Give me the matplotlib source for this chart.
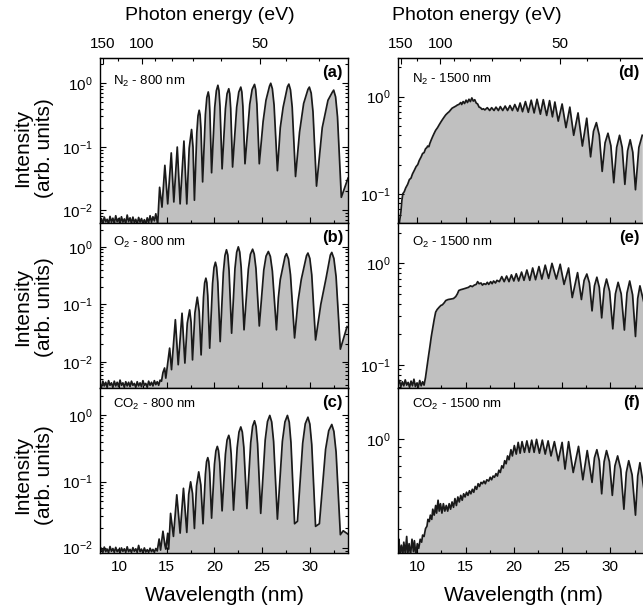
import numpy as np
import matplotlib

matplotlib.use("Agg")
import matplotlib.pyplot as plt
from matplotlib.ticker import LogLocator, NullFormatter, MultipleLocator, FixedLocator

plt.rcParams["font.family"] = ["Liberation Sans", "DejaVu Sans"]
plt.rcParams["mathtext.fontset"] = "custom"
plt.rcParams["mathtext.rm"] = "Liberation Sans"
plt.rcParams["mathtext.it"] = "Liberation Sans:italic"
plt.rcParams["mathtext.bf"] = "Liberation Sans:bold"

HC = 1239.84  # eV nm

# ---- spectra: (wavelength nm, intensity arb. units) ----
spec_n2_800 = [
    (8.0, .0060), (8.15, .0074), (8.3, .0062), (8.45, .0078), (8.6, .0066), (8.75, .0072),
    (8.9, .0061), (9.05, .0080), (9.2, .0065), (9.35, .0075), (9.5, .0062), (9.65, .0082),
    (9.8, .0066), (9.95, .0074), (10.1, .0061), (10.25, .0079), (10.4, .0065), (10.55, .0073),
    (10.7, .0062), (10.85, .0084), (11.0, .0066), (11.15, .0076), (11.3, .0062), (11.45, .0078),
    (11.6, .0064), (11.75, .0072), (11.9, .0061), (12.05, .0077), (12.2, .0065), (12.35, .0074),
    (12.5, .0062), (12.65, .0071), (12.8, .0061), (12.95, .0076), (13.1, .0064), (13.25, .0082),
    (13.4, .0065), (13.55, .0079), (13.7, .0068), (13.85, .0088), (14.05, .0060),
    (14.15, .012), (14.25, .023), (14.5, .0112), (14.8, .051), (15.1, .0126), (15.47, .080),
    (15.74, .0135), (16.1, .099), (16.4, .0126), (16.8, .123), (17.1, .0126), (17.35, .095),
    (17.6, .187), (17.75, .099), (17.9, .0144), (18.15, .166), (18.275, .307), (18.4, .376),
    (18.49, .32), (18.58, .196), (18.76, .028), (19.05, .323), (19.2, .596), (19.35, .73),
    (19.44, .608), (19.52, .351), (19.7, .039), (20.03, .42), (20.2, .763), (20.36, .93),
    (20.47, .77), (20.58, .436), (20.8, .045), (21.15, .397), (21.32, .684), (21.5, .82),
    (21.6, .687), (21.7, .403), (21.9, .048), (22.33, .42), (22.55, .726), (22.76, .87),
    (22.87, .731), (22.98, .434), (23.2, .054), (23.7, .467), (23.95, .80), (24.2, .96),
    (24.32, .80), (24.45, .467), (24.7, .054), (25.1, .25), (25.4, .54), (25.77, .9),
    (25.9, 1.0), (26.07, .82), (26.25, .453), (26.6, .042), (26.9, .2), (27.2, .42),
    (27.65, .88), (27.8, .97), (27.97, .786), (28.15, .42), (28.5, .034), (28.92, .17),
    (29.35, .48), (29.8, .8), (29.95, .87), (30.14, .70), (30.33, .355), (30.7, .024),
    (31.3, .2), (31.9, .54), (32.35, .72), (32.5, .78), (32.7, .61), (32.9, .295),
    (33.3, .016), (34.0, .032),
]

spec_o2_800 = [
    (8.0, .0041), (8.15, .0036), (8.3, .0046), (8.45, .0038), (8.6, .0044), (8.75, .0036),
    (8.9, .0047), (9.05, .0039), (9.2, .0043), (9.35, .0036), (9.5, .0046), (9.65, .0038),
    (9.8, .0044), (9.95, .0037), (10.1, .0048), (10.25, .0039), (10.4, .0043), (10.55, .0036),
    (10.7, .0045), (10.85, .0038), (11.0, .0044), (11.15, .0037), (11.3, .0046), (11.45, .0039),
    (11.6, .0042), (11.75, .0036), (11.9, .0045), (12.05, .0038), (12.2, .0043), (12.35, .0037),
    (12.5, .0047), (12.65, .0039), (12.8, .0042), (12.95, .0036), (13.1, .0046), (13.25, .0039),
    (13.4, .0044), (13.55, .0038), (13.7, .0047), (13.85, .0040), (14.0, .0045), (14.15, .0039),
    (14.3, .0048), (14.45, .0046), (14.6, .0065), (14.77, .0078), (14.9, .0052), (15.3, .0173),
    (15.5, .0073), (15.9, .054), (16.2, .0089), (16.6, .070), (16.9, .0095), (17.15, .047),
    (17.4, .080), (17.55, .0485), (17.7, .0108), (17.95, .071), (18.2, .133), (18.4, .0747),
    (18.6, .0132), (18.85, .132), (18.97, .235), (19.1, .285), (19.2, .239), (19.3, .141),
    (19.5, .0173), (19.8, .228), (19.95, .435), (20.1, .54), (20.22, .443), (20.35, .244),
    (20.6, .0225), (20.93, .355), (21.1, .707), (21.26, .89), (21.4, .722), (21.53, .386),
    (21.8, .0315), (22.15, .421), (22.33, .806), (22.5, 1.0), (22.65, .812), (22.8, .436),
    (23.1, .036), (23.55, .406), (23.77, .743), (24.0, .91), (24.17, .75), (24.35, .422),
    (24.7, .042), (25.17, .394), (25.41, .69), (25.65, .83), (25.86, .68), (26.07, .379),
    (26.5, .036), (26.7, .13), (26.9, .27), (27.4, .68), (27.55, .76), (27.76, .615),
    (27.97, .327), (28.4, .026), (28.75, .11), (29.1, .27), (29.65, .70), (29.8, .78),
    (30.0, .628), (30.2, .327), (30.6, .024), (31.15, .1), (31.7, .285), (32.15, .72),
    (32.3, .80), (32.52, .628), (32.75, .304), (33.2, .0166), (33.9, .041),
]

spec_co2_800 = [
    (8.0, .0088), (8.15, .0098), (8.3, .0085), (8.45, .0102), (8.6, .0087), (8.75, .0095),
    (8.9, .0084), (9.05, .0104), (9.2, .0088), (9.35, .0097), (9.5, .0085), (9.65, .0101),
    (9.8, .0087), (9.95, .0094), (10.1, .0084), (10.25, .0099), (10.4, .0088), (10.55, .0096),
    (10.7, .0085), (10.85, .0103), (11.0, .0087), (11.15, .0094), (11.3, .0085), (11.45, .0100),
    (11.6, .0088), (11.75, .0096), (11.9, .0085), (12.05, .0108), (12.2, .0087), (12.35, .0095),
    (12.5, .0084), (12.65, .0099), (12.8, .0086), (12.95, .0093), (13.1, .0085), (13.25, .0098),
    (13.4, .0087), (13.55, .0094), (13.7, .0085), (13.85, .0097), (14.0, .0089), (14.2, .0135),
    (14.35, .0092), (14.6, .0177), (14.8, .011), (14.9, .0095), (15.1, .0165), (15.2, .0095),
    (15.4, .033), (15.7, .0148), (16.05, .063), (16.4, .0166), (16.75, .079), (17.1, .017),
    (17.3, .064), (17.5, .099), (17.7, .066), (17.9, .0195), (18.12, .0855), (18.35, .14),
    (18.57, .089), (18.8, .023), (19.05, .129), (19.17, .199), (19.3, .23), (19.4, .202),
    (19.5, .136), (19.7, .028), (20.0, .182), (20.15, .291), (20.3, .34), (20.42, .295),
    (20.55, .194), (20.8, .036), (21.15, .259), (21.32, .424), (21.5, .50), (21.62, .425),
    (21.75, .261), (22.0, .037), (22.38, .325), (22.57, .559), (22.76, .67), (22.92, .561),
    (23.08, .329), (23.4, .039), (23.8, .386), (24.0, .686), (24.2, .83), (24.36, .68),
    (24.52, .371), (24.85, .033), (25.32, .426), (25.56, .808), (25.8, 1.0), (26.0, .798),
    (26.2, .405), (26.6, .027), (27.12, .405), (27.39, .798), (27.65, 1.0), (27.84, .79),
    (28.02, .389), (28.4, .023), (28.7, .025), (29.25, .38), (29.52, .749), (29.8, .94),
    (30.0, .741), (30.2, .363), (30.6, .021), (31.0, .023), (31.65, .307), (31.98, .588),
    (32.3, .73), (32.52, .574), (32.75, .28), (33.2, .0157), (33.5, .018), (34.0, .016),
]

spec_n2_1500 = [
    (8.14, .05), (8.3, .065), (8.4, .085), (8.5, .10), (8.65, .105), (8.8, .115), (9.0, .125),
    (9.18, .14), (9.35, .145), (9.5, .16), (9.7, .175), (9.87, .19), (10.05, .2), (10.2, .22),
    (10.4, .24), (10.55, .26), (10.7, .265), (10.85, .29), (11.0, .30), (11.07, .31),
    (11.2, .305), (11.3, .33), (11.45, .36), (11.6, .39), (11.75, .42), (11.9, .45), (12.1, .48),
    (12.25, .51), (12.45, .55), (12.6, .58), (12.8, .62), (12.95, .65), (13.15, .68),
    (13.3, .70), (13.45, .73), (13.6, .76), (13.8, .78), (14.0, .80), (14.15, .82), (14.3, .83),
    (14.5, .87), (14.6, .83), (14.75, .89), (14.9, .85), (15.05, .92), (15.2, .87), (15.35, .94),
    (15.5, .89), (15.65, .97), (15.8, .90), (15.95, .93), (16.1, .86), (16.25, .84), (16.4, .78),
    (16.55, .77), (16.7, .74), (16.85, .75), (17.0, .73), (17.25, .77), (17.5, .72),
    (17.7, .77), (17.95, .72), (18.15, .78), (18.4, .72), (18.6, .79), (18.85, .72), (19.1, .80),
    (19.35, .72), (19.6, .81), (19.85, .72), (20.1, .83), (20.4, .71), (20.65, .86), (20.9, .70),
    (21.2, .89), (21.5, .69), (21.8, .92), (22.1, .68), (22.4, .94), (22.75, .66), (23.05, .93),
    (23.4, .64), (23.7, .91), (24.0, .62), (24.25, .88), (24.6, .56), (25.0, .84), (25.4, .48),
    (25.8, .78), (26.2, .40), (26.65, .68), (27.1, .31), (27.55, .60), (27.95, .24),
    (28.25, .44), (28.55, .54), (28.85, .40), (29.15, .17), (29.45, .335), (29.75, .42),
    (30.05, .313), (30.35, .13), (30.65, .30), (30.95, .40), (31.22, .30), (31.5, .125),
    (31.78, .276), (32.05, .36), (32.32, .268), (32.6, .11), (32.95, .30), (33.3, .40),
]

spec_o2_1500 = [
    (8.0, .064), (8.15, .070), (8.3, .061), (8.45, .068), (8.6, .062), (8.75, .071),
    (8.9, .063), (9.05, .067), (9.2, .060), (9.35, .069), (9.5, .062), (9.65, .072),
    (9.8, .061), (9.95, .066), (10.1, .060), (10.25, .070), (10.4, .062), (10.55, .068),
    (10.7, .063), (10.85, .075), (11.0, .095), (11.15, .12), (11.3, .15), (11.45, .19),
    (11.58, .225), (11.75, .28), (11.9, .33), (12.05, .35), (12.27, .37), (12.45, .385),
    (12.6, .39), (12.8, .41), (12.95, .43), (13.2, .44), (13.5, .445), (13.75, .45),
    (13.98, .47), (14.15, .50), (14.3, .54), (14.5, .55), (14.8, .56), (15.05, .57), (15.3, .58),
    (15.5, .60), (15.7, .59), (15.9, .61), (16.1, .62), (16.25, .66), (16.4, .63), (16.6, .64),
    (16.75, .61), (16.9, .63), (17.1, .62), (17.25, .65), (17.4, .62), (17.6, .66),
    (17.75, .63), (17.9, .67), (18.1, .64), (18.25, .68), (18.5, .66), (18.75, .74),
    (19.0, .66), (19.25, .75), (19.5, .66), (19.75, .77), (20.0, .67), (20.25, .79), (20.5, .67),
    (20.8, .82), (21.05, .68), (21.35, .86), (21.65, .68), (21.95, .90), (22.25, .69),
    (22.6, .93), (22.9, .70), (23.25, .96), (23.6, .71), (23.95, 1.0), (24.4, .70), (24.8, .98),
    (25.2, .62), (25.67, .90), (26.05, .46), (26.6, .81), (27.0, .44), (27.28, .68),
    (27.56, .785), (27.83, .64), (28.1, .34), (28.35, .60), (28.6, .73), (28.85, .58),
    (29.1, .29), (29.35, .56), (29.6, .70), (29.92, .53), (30.25, .226), (30.52, .50),
    (30.8, .65), (31.12, .50), (31.45, .22), (31.72, .51), (32.0, .67), (32.3, .49), (32.6, .19),
    (32.83, .45), (33.06, .60), (33.5, .40),
]

spec_co2_1500 = [
    (8.0, .225), (8.1, .26), (8.2, .21), (8.35, .24), (8.5, .21), (8.6, .25), (8.75, .215),
    (8.9, .27), (9.0, .21), (9.15, .245), (9.3, .21), (9.45, .26), (9.6, .22), (9.7, .255),
    (9.85, .21), (10.0, .245), (10.15, .23), (10.3, .26), (10.45, .25), (10.55, .275),
    (10.7, .27), (10.85, .30), (11.0, .31), (11.1, .34), (11.24, .33), (11.35, .36), (11.5, .34),
    (11.6, .39), (11.75, .36), (11.9, .41), (12.0, .37), (12.15, .44), (12.27, .38), (12.4, .42),
    (12.55, .37), (12.7, .42), (12.85, .38), (13.0, .41), (13.15, .38), (13.3, .42),
    (13.45, .39), (13.6, .43), (13.75, .40), (13.9, .45), (14.05, .41), (14.2, .46),
    (14.35, .43), (14.5, .47), (14.65, .44), (14.8, .48), (14.95, .46), (15.1, .49),
    (15.25, .47), (15.4, .50), (15.55, .48), (15.7, .51), (15.85, .49), (16.0, .53),
    (16.15, .51), (16.3, .55), (16.45, .53), (16.6, .56), (16.75, .55), (16.9, .57),
    (17.05, .55), (17.2, .58), (17.4, .57), (17.55, .60), (17.7, .58), (17.85, .61), (18.0, .60),
    (18.15, .63), (18.3, .61), (18.45, .66), (18.6, .64), (18.75, .70), (18.9, .68), (19.05, .75),
    (19.2, .72), (19.35, .80), (19.5, .76), (19.7, .87), (19.85, .80), (20.05, .92), (20.25, .82),
    (20.45, .96), (20.65, .83), (20.85, .97), (21.1, .84), (21.35, .98), (21.6, .84),
    (21.85, .99), (22.1, .84), (22.35, 1.0), (22.65, .83), (22.95, .99), (23.25, .82),
    (23.55, .98), (23.85, .80), (24.2, .97), (24.6, .75), (25.0, .96), (25.3, .67), (25.67, .97),
    (26.15, .64), (26.7, .91), (27.15, .58), (27.6, .86), (28.1, .56), (28.35, .78), (28.6, .87),
    (28.85, .75), (29.1, .48), (29.35, .74), (29.6, .86), (29.9, .74), (30.2, .47), (30.47, .70),
    (30.75, .80), (31.07, .67), (31.4, .39), (31.65, .64), (31.9, .75), (32.25, .62),
    (32.6, .36), (32.83, .61), (33.06, .73), (33.5, .50),
]

# y-limits of each panel as they appear in the figure
ylims = {"a": (0.0063, 2.5), "b": (0.0035, 2.6), "c": (0.0083, 2.6),
         "d": (0.05, 2.5), "e": (0.059, 2.5), "f": (0.216, 2.0)}

panels = [
    ("a", r"N$_2$ - 800 nm", spec_n2_800, 0, 0),
    ("b", r"O$_2$ - 800 nm", spec_o2_800, 1, 0),
    ("c", r"CO$_2$ - 800 nm", spec_co2_800, 2, 0),
    ("d", r"N$_2$ - 1500 nm", spec_n2_1500, 0, 1),
    ("e", r"O$_2$ - 1500 nm", spec_o2_1500, 1, 1),
    ("f", r"CO$_2$ - 1500 nm", spec_co2_1500, 2, 1),
]

W, H = 643, 615
fig = plt.figure(figsize=(W / 100, H / 100), dpi=100)

col_left = [100, 398]
col_width = [248, 251]
row_top = [58, 223, 388]
row_h = 165


def to_energy(x):
    x = np.asarray(x, dtype=float)
    with np.errstate(divide="ignore"):
        return HC / x


for key, text, spec, row, col in panels:
    wl, inten = zip(*spec)
    left = col_left[col] / W
    bottom = (H - row_top[row] - row_h) / H
    ax = fig.add_axes([left, bottom, col_width[col] / W, row_h / H])
    lo, hi = ylims[key]
    ax.set_yscale("log")
    ax.fill_between(wl, inten, lo * 0.5, color="#c0c0c0", lw=0)
    ax.plot(wl, inten, color="#1a1a1a", lw=1.25, solid_joinstyle="round")
    ax.set_xlim(8, 34)
    ax.set_ylim(lo, hi)

    ax.yaxis.set_major_locator(LogLocator(base=10, numticks=12))
    ax.yaxis.set_minor_locator(LogLocator(base=10, subs=np.arange(2, 10), numticks=12))
    ax.yaxis.set_minor_formatter(NullFormatter())
    ax.xaxis.set_major_locator(MultipleLocator(5))
    ax.xaxis.set_minor_locator(MultipleLocator(2.5))
    ax.tick_params(which="both", direction="in", labelsize=11, right=True)
    ax.tick_params(which="major", length=4, width=0.8, pad=5)
    ax.tick_params(which="minor", length=2.5, width=0.8)
    for s in ax.spines.values():
        s.set_linewidth(1.0)
    if col == 1:
        ax.tick_params(right=False, which="both")

    if row < 2:
        ax.tick_params(labelbottom=False)
    else:
        ax.set_xlabel("Wavelength (nm)", fontsize=15, labelpad=9)

    ty = {"a": 0.86, "b": 0.88, "c": 0.90, "d": 0.87, "e": 0.88, "f": 0.90}[key]
    tx = 0.052 if col == 0 else 0.056
    ax.text(tx, ty, text, transform=ax.transAxes, fontsize=9.5, va="center", ha="left")
    px = 0.98 if col == 0 else 0.964
    ax.text(px, 0.91, f"({key})", transform=ax.transAxes, fontsize=12,
            fontweight="bold", va="center", ha="right")

    if row == 0:
        sec = ax.secondary_xaxis("top", functions=(to_energy, to_energy))
        sec.xaxis.set_major_locator(FixedLocator([150, 100, 50]))
        sec.xaxis.set_minor_locator(FixedLocator([125, 90, 80, 70, 60, 45, 40, 35]))
        sec.tick_params(which="both", direction="in", labelsize=11, pad=5)
        sec.tick_params(which="major", length=4, width=0.8)
        sec.tick_params(which="minor", length=2.5, width=0.8)
        ax.tick_params(top=False, which="both")

# column titles for the energy axis
fig.text(210 / W, 1 - 15 / H, "Photon energy (eV)", fontsize=14, ha="center", va="center")
fig.text(477 / W, 1 - 15 / H, "Photon energy (eV)", fontsize=14, ha="center", va="center")

# row y-labels
for yc in [148, 307, 475]:
    fig.text(34 / W, 1 - yc / H, "Intensity\n(arb. units)", fontsize=15, rotation=90,
             ha="center", va="center", linespacing=1.2, multialignment="center")

fig.savefig("out.png", dpi=100)
